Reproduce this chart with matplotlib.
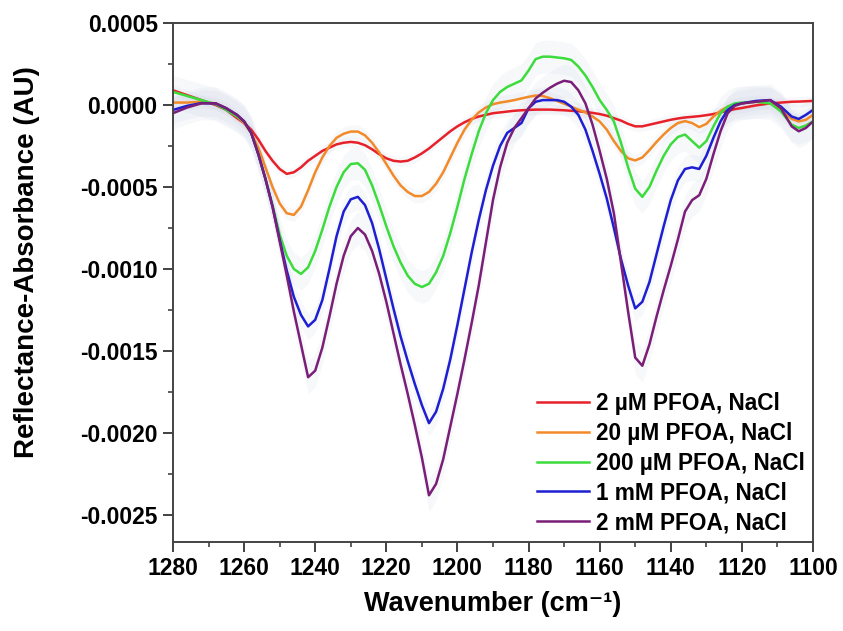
import numpy as np
import matplotlib
matplotlib.use("Agg")
import matplotlib.pyplot as plt
from matplotlib.ticker import MultipleLocator, FormatStrFormatter

plt.rcParams['font.family'] = ['Liberation Sans', 'DejaVu Sans']
plt.rcParams['font.weight'] = 'bold'
plt.rcParams['axes.unicode_minus'] = False

# wavenumber grid (cm-1)
wn = [1280, 1276, 1272, 1268, 1265, 1262, 1260, 1258, 1256, 1254, 1252, 1250,
      1248, 1246, 1244, 1242, 1240, 1238, 1236, 1234, 1232, 1230, 1228, 1226,
      1224, 1222, 1220, 1218, 1216, 1214, 1212, 1210, 1208, 1206, 1204, 1202,
      1200, 1198, 1196, 1194, 1192, 1190, 1188, 1186, 1184, 1182, 1180, 1178,
      1176, 1174, 1172, 1170, 1168, 1166, 1164, 1162, 1160, 1158, 1156, 1154,
      1152, 1150, 1148, 1146, 1144, 1142, 1140, 1138, 1136, 1134, 1132, 1130,
      1128, 1126, 1124, 1122, 1120, 1116, 1112, 1109, 1106, 1104, 1102, 1100]

# reflectance-absorbance, units of 1e-4 AU (same row layout as wn)
pfoa_2uM = [0.9, 0.6, 0.3, 0.0, -0.3, -0.8, -1.1, -1.5, -2.1, -2.8, -3.4, -3.9,
            -4.2, -4.1, -3.8, -3.4, -3.1, -2.8, -2.6, -2.4, -2.3, -2.25, -2.3, -2.45,
            -2.7, -3.0, -3.25, -3.4, -3.45, -3.4, -3.2, -2.95, -2.65, -2.3, -1.95, -1.6,
            -1.3, -1.05, -0.85, -0.7, -0.6, -0.5, -0.45, -0.4, -0.35, -0.32, -0.3, -0.28,
            -0.28, -0.28, -0.3, -0.32, -0.35, -0.38, -0.42, -0.48, -0.55, -0.65, -0.8, -0.95,
            -1.15, -1.3, -1.3, -1.2, -1.1, -1.0, -0.9, -0.82, -0.76, -0.72, -0.68, -0.62,
            -0.55, -0.45, -0.35, -0.25, -0.18, -0.02, 0.1, 0.15, 0.2, 0.21, 0.23, 0.25]
pfoa_20uM = [0.15, 0.15, 0.2, 0.1, -0.2, -0.7, -1.1, -1.7, -2.6, -3.8, -5.0, -6.0,
             -6.6, -6.7, -6.2, -5.2, -4.1, -3.2, -2.5, -2.0, -1.75, -1.62, -1.62, -1.85,
             -2.3, -2.9, -3.6, -4.3, -4.9, -5.3, -5.55, -5.55, -5.3, -4.8, -4.1, -3.2,
             -2.3, -1.5, -0.9, -0.45, -0.15, 0.05, 0.15, 0.22, 0.3, 0.4, 0.5, 0.58,
             0.55, 0.42, 0.25, 0.08, -0.1, -0.28, -0.45, -0.7, -1.0, -1.5, -2.2, -2.8,
             -3.25, -3.38, -3.2, -2.75, -2.25, -1.8, -1.4, -1.1, -0.98, -1.1, -1.35, -1.15,
             -0.7, -0.35, -0.1, 0.05, 0.1, 0.2, 0.1, -0.3, -0.85, -1.0, -0.9, -0.6]
pfoa_200uM = [0.8, 0.55, 0.3, 0.05, -0.3, -0.7, -1.0, -1.7, -3.0, -4.5, -6.1, -7.9,
              -9.2, -10.0, -10.3, -9.9, -8.9, -7.6, -6.2, -5.0, -4.1, -3.6, -3.55, -3.95,
              -4.9, -6.1, -7.4, -8.6, -9.6, -10.4, -10.9, -11.1, -10.9, -10.2, -9.2, -7.8,
              -6.2, -4.5, -3.0, -1.6, -0.5, 0.3, 0.8, 1.1, 1.3, 1.5, 2.1, 2.8,
              2.95, 2.95, 2.9, 2.85, 2.75, 2.35, 1.8, 1.1, 0.3, -0.3, -1.0, -2.3,
              -3.8, -5.1, -5.6, -5.0, -4.0, -3.1, -2.4, -1.95, -1.8, -2.2, -2.6, -2.2,
              -1.3, -0.5, -0.1, 0.1, 0.15, 0.2, 0.1, -0.4, -1.2, -1.4, -1.25, -1.0]
pfoa_1mM = [-0.3, -0.05, 0.12, 0.1, -0.2, -0.6, -1.0, -1.7, -3.0, -4.5, -6.2, -8.2,
            -10.1, -11.7, -12.8, -13.5, -13.1, -11.9, -10.0, -8.0, -6.5, -5.75, -5.6, -6.1,
            -7.2, -8.8, -10.6, -12.4, -14.1, -15.6, -17.0, -18.3, -19.4, -18.7, -17.3, -15.5,
            -13.4, -11.2, -9.0, -7.0, -5.2, -3.7, -2.5, -1.7, -1.4, -1.1, -0.2, 0.2,
            0.3, 0.3, 0.3, 0.2, -0.1, -0.6, -1.5, -2.8, -4.2, -5.7, -7.5, -9.4,
            -11.0, -12.4, -12.0, -10.8, -9.1, -7.4, -5.8, -4.6, -3.9, -3.8, -3.9, -3.1,
            -2.0, -1.0, -0.3, 0.0, 0.1, 0.25, 0.3, -0.1, -0.7, -0.85, -0.6, -0.3]
pfoa_2mM = [-0.5, -0.15, 0.1, 0.1, -0.2, -0.6, -1.0, -1.7, -3.0, -4.5, -6.2, -8.3,
            -10.4, -12.6, -14.6, -16.6, -16.2, -14.8, -12.9, -10.9, -9.2, -8.0, -7.5, -7.9,
            -8.9, -10.3, -12.0, -13.9, -15.8, -17.6, -19.5, -21.5, -23.8, -23.1, -21.6, -19.6,
            -17.6, -15.5, -13.3, -11.0, -8.4, -5.8, -3.8, -2.3, -1.4, -0.8, -0.2, 0.4,
            0.75, 1.05, 1.3, 1.48, 1.4, 0.9, 0.1, -1.2, -2.8, -4.5, -6.6, -9.6,
            -12.6, -15.4, -15.9, -14.6, -12.9, -11.3, -9.8, -8.2, -6.5, -5.8, -5.5, -4.5,
            -3.0, -1.6, -0.5, -0.05, 0.1, 0.2, 0.3, -0.2, -1.3, -1.6, -1.4, -1.0]

# spread of replicate spectra, units of 1e-4 AU
spread = [0.3, 0.4, 1.0, 0.8, 1.0]

labels = ['2 µM PFOA, NaCl', '20 µM PFOA, NaCl', '200 µM PFOA, NaCl',
          '1 mM PFOA, NaCl', '2 mM PFOA, NaCl']
colors = ['#e8202a', '#f28a28', '#3cdc3c', '#1e1ed2', '#7a1e78']
series = [pfoa_2uM, pfoa_20uM, pfoa_200uM, pfoa_1mM, pfoa_2mM]

fig = plt.figure(figsize=(8.43, 6.31), dpi=100)
ax = fig.add_axes([0.2052, 0.1410, 0.7592, 0.8225])

x = np.array(wn)
for ys, sd in zip(series, spread):
    y = np.array(ys) * 1e-4
    ax.fill_between(x, y - sd * 1e-4, y + sd * 1e-4, color='#c9d0e4', alpha=0.15, lw=0)

for ys, c, lab in zip(series, colors, labels):
    ax.plot(x, np.array(ys) * 1e-4, color=c, lw=1.8, label=lab)

ax.set_xlim(1280, 1100)
ax.set_ylim(-0.002665, 0.0005)

ax.xaxis.set_major_locator(MultipleLocator(20))
ax.xaxis.set_minor_locator(MultipleLocator(10))
ax.yaxis.set_major_locator(MultipleLocator(0.0005))
ax.yaxis.set_minor_locator(MultipleLocator(0.00025))
ax.yaxis.set_major_formatter(FormatStrFormatter('%.4f'))

ax.tick_params(which='major', direction='out', length=7, width=1.3, labelsize=16.5, pad=4,
               color='#333333', top=False, right=False)
ax.tick_params(which='minor', direction='out', length=3.5, width=1.1, color='#333333',
               top=False, right=False)
for lab in ax.get_xticklabels() + ax.get_yticklabels():
    lab.set_fontweight('bold')

for sp in ax.spines.values():
    sp.set_color('#444444')
    sp.set_linewidth(1.4)

ax.set_xlabel('Wavenumber (cm⁻¹)', fontsize=19.5, fontweight='bold', labelpad=8)
ax.set_ylabel('Reflectance-Absorbance (AU)', fontsize=20, fontweight='bold')
ax.yaxis.set_label_coords(-0.208, 0.54)

leg = ax.legend(loc='lower right', frameon=False, fontsize=16.3, handlelength=2.3,
                handletextpad=0.3, labelspacing=0.3, borderaxespad=0.1, borderpad=0.25,
                bbox_to_anchor=(1.0, 0.0))
for t in leg.get_texts():
    t.set_fontweight('bold')

fig.savefig('out.png', dpi=100)
